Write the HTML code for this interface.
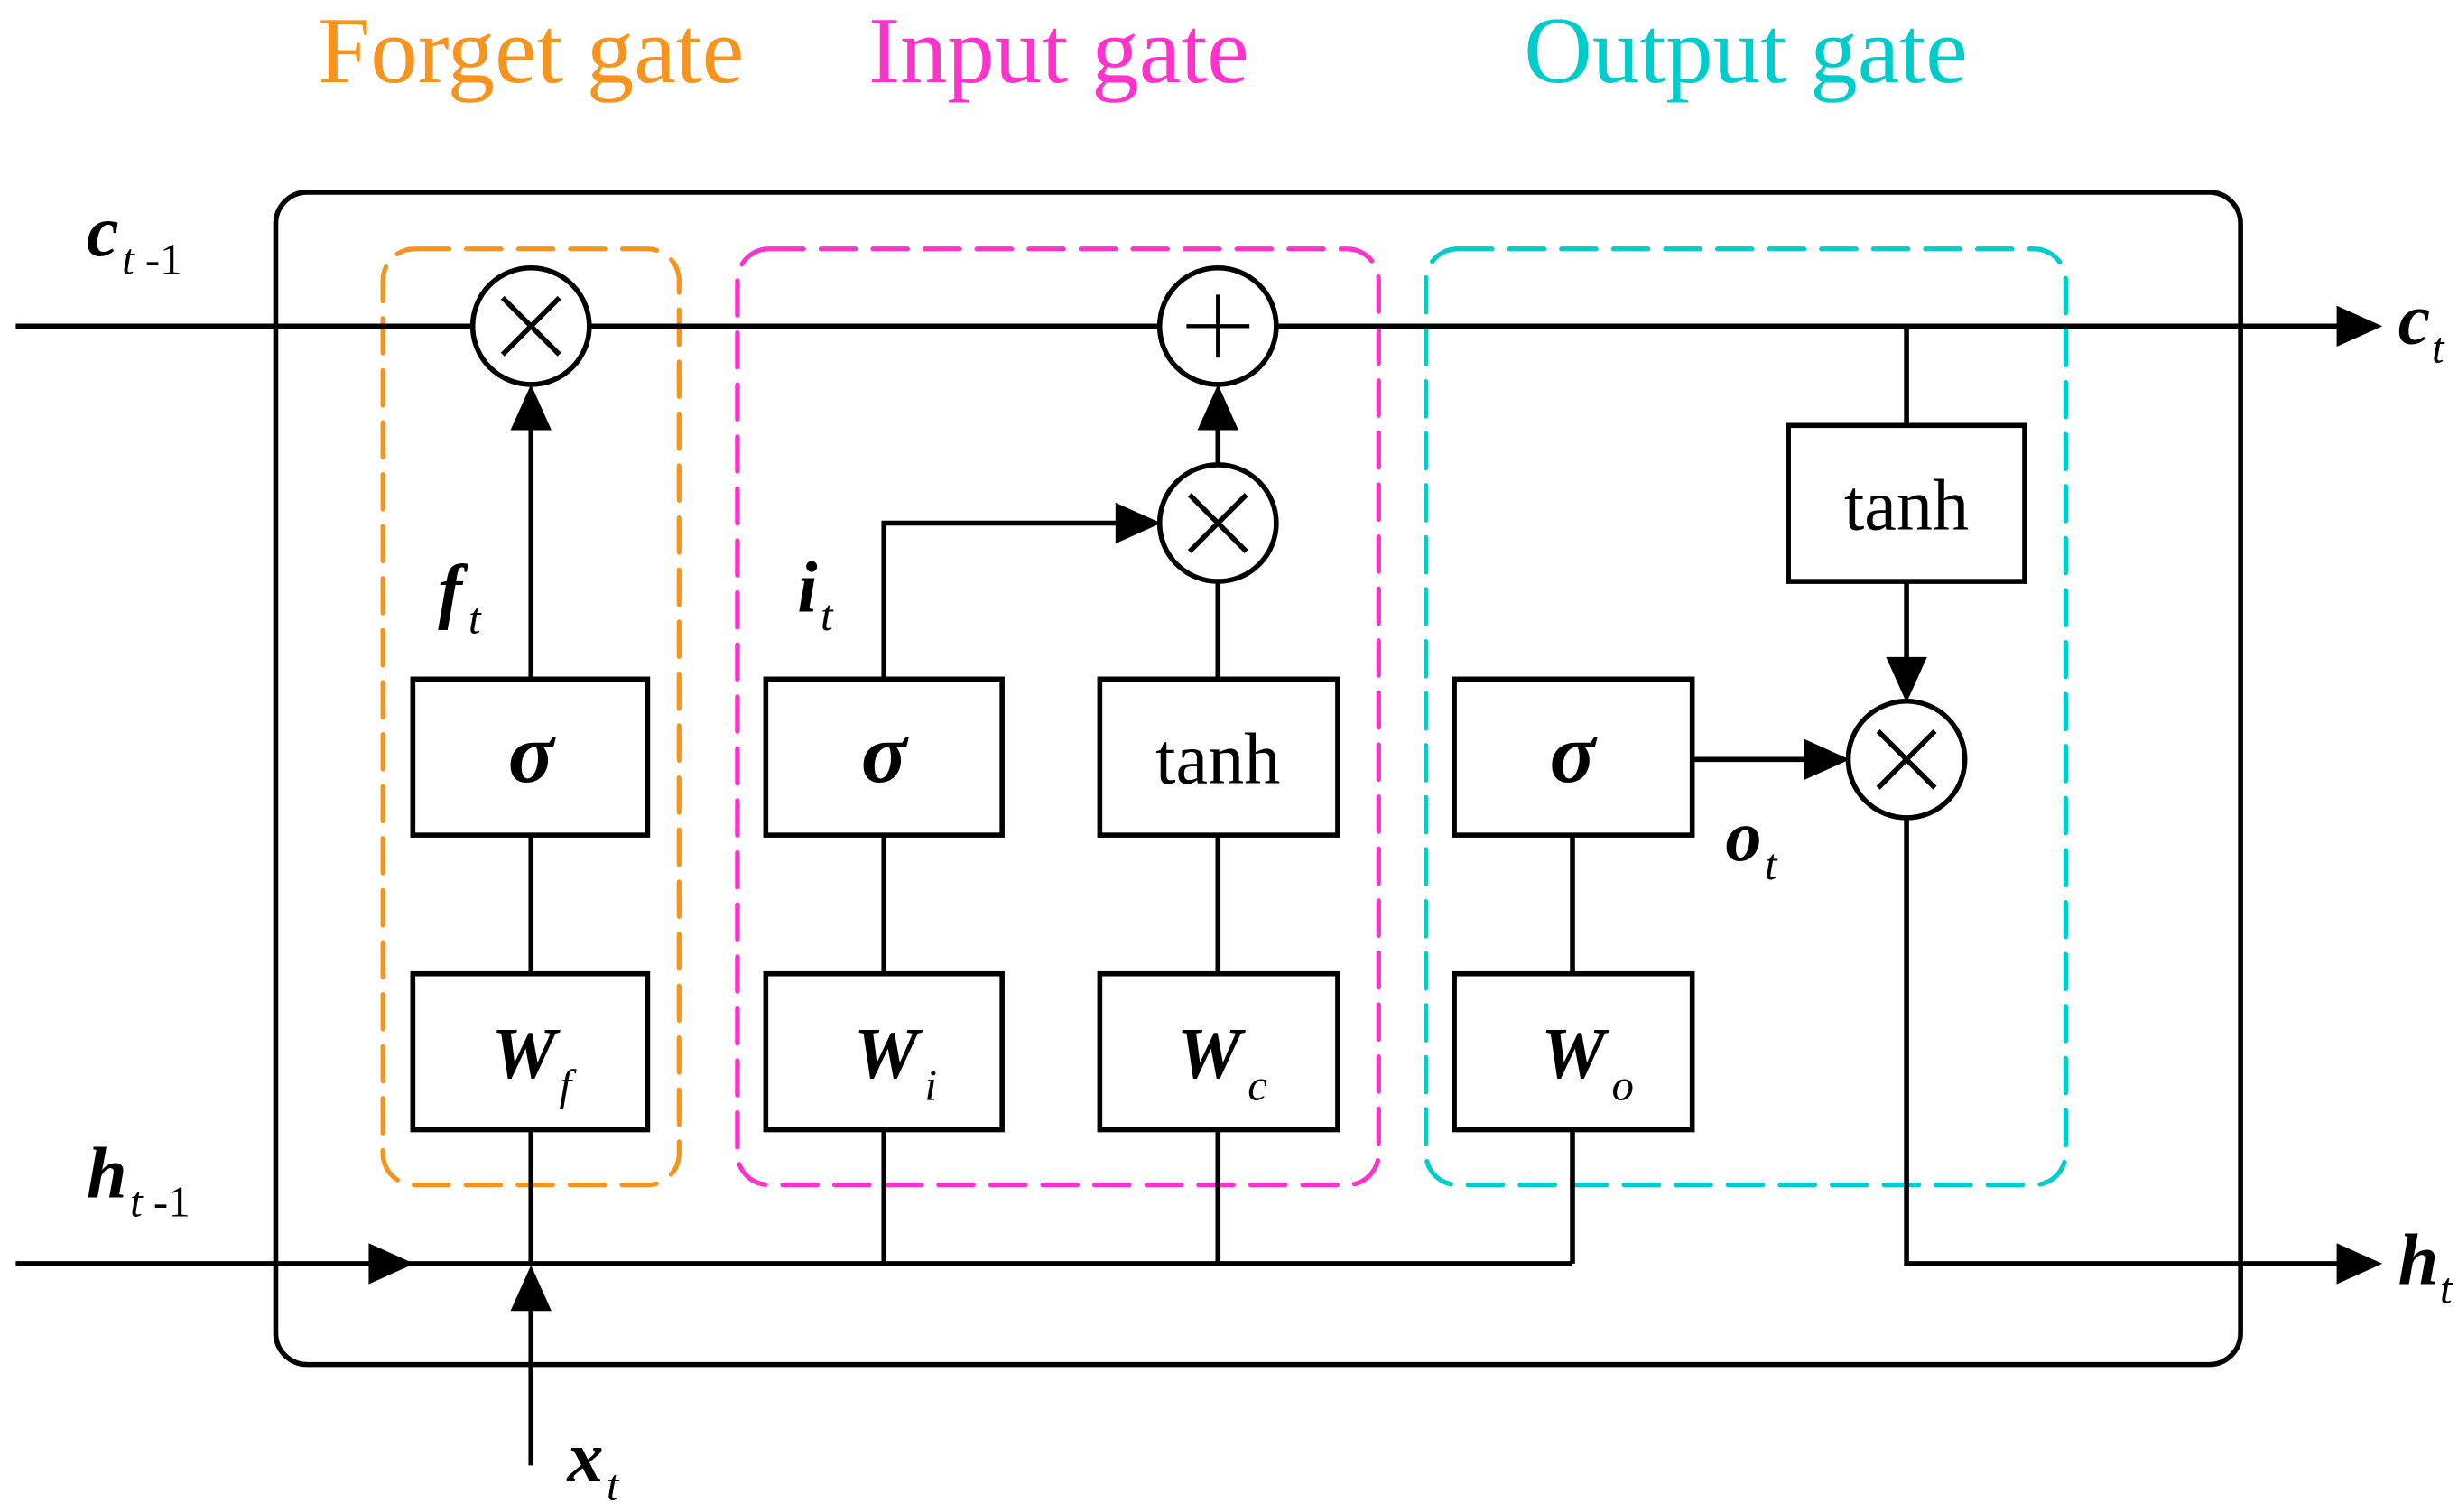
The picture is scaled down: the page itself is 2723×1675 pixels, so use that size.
<!DOCTYPE html>
<html><head><meta charset="utf-8"><style>html,body{margin:0;padding:0;background:#fff}svg{display:block}</style></head>
<body>
<svg width="2723" height="1675" viewBox="0 0 1560 959.6" preserveAspectRatio="none" xmlns="http://www.w3.org/2000/svg" font-family="Liberation Serif, serif">
<text x="337" y="52" font-size="60" fill="#f7941d" text-anchor="middle">Forget gate</text>
<text x="672" y="52" font-size="60" fill="#ff33cc" text-anchor="middle">Input gate</text>
<text x="1108" y="52" font-size="60" fill="#00cccc" text-anchor="middle">Output gate</text>

<rect x="175" y="122" width="1247" height="744" rx="20" fill="none" stroke="#000" stroke-width="3.2"/>
<g fill="none" stroke-width="3" stroke-dasharray="22 11" stroke-linecap="round">
<rect x="243" y="158" width="188" height="594" rx="20" stroke="#f7941d"/>
<rect x="468" y="158" width="407" height="594" rx="20" stroke="#ff33cc"/>
<rect x="905" y="158" width="406" height="594" rx="20" stroke="#00cccc"/>
</g>

<g stroke="#000" stroke-width="3.2" fill="none">
<line x1="10" y1="207" x2="300" y2="207"/>
<line x1="374" y1="207" x2="736" y2="207"/>
<path d="M810,207 H1484"/>
<path d="M1483,194 L1512,207 L1483,220 z" fill="#000" stroke="none"/>
<line x1="10" y1="802" x2="998" y2="802"/>
<path d="M234,789 L263,802 L234,815 z" fill="#000" stroke="none"/>
<path d="M1210,519 V802 H1484"/>
<path d="M1483,789 L1512,802 L1483,815 z" fill="#000" stroke="none"/>
<line x1="337" y1="930" x2="337" y2="830"/>
<path d="M324,832 L337,803 L350,832 z" fill="#000" stroke="none"/>
<line x1="337" y1="802" x2="337" y2="717"/>
<line x1="337" y1="618" x2="337" y2="530"/>
<line x1="337" y1="431" x2="337" y2="272"/>
<path d="M324,273 L337,244 L350,273 z" fill="#000" stroke="none"/>
<line x1="561" y1="802" x2="561" y2="717"/>
<line x1="561" y1="618" x2="561" y2="530"/>
<path d="M561,431 V332 H710"/>
<path d="M708,319 L737,332 L708,345 z" fill="#000" stroke="none"/>
<line x1="773" y1="802" x2="773" y2="717"/>
<line x1="773" y1="618" x2="773" y2="530"/>
<line x1="773" y1="431" x2="773" y2="369"/>
<line x1="773" y1="295" x2="773" y2="272"/>
<path d="M760,273 L773,244 L786,273 z" fill="#000" stroke="none"/>
<line x1="998" y1="802" x2="998" y2="717"/>
<line x1="998" y1="618" x2="998" y2="530"/>
<line x1="1074" y1="482" x2="1147" y2="482"/>
<path d="M1145,469 L1174,482 L1145,495 z" fill="#000" stroke="none"/>
<line x1="1210" y1="207" x2="1210" y2="270"/>
<line x1="1210" y1="369" x2="1210" y2="418"/>
<path d="M1197,417 L1210,446 L1223,417 z" fill="#000" stroke="none"/>
<g fill="#fff">
<rect x="262" y="431" width="149" height="99"/>
<rect x="262" y="618" width="149" height="99"/>
<rect x="486" y="431" width="150" height="99"/>
<rect x="486" y="618" width="150" height="99"/>
<rect x="698" y="431" width="151" height="99"/>
<rect x="698" y="618" width="151" height="99"/>
<rect x="923" y="431" width="151" height="99"/>
<rect x="923" y="618" width="151" height="99"/>
<rect x="1135" y="270" width="150" height="99"/>
<circle cx="337" cy="207" r="37"/>
<circle cx="773" cy="207" r="37"/>
<circle cx="773" cy="332" r="37"/>
<circle cx="1210" cy="482" r="37"/>
</g>
<path d="M319,189 L355,225 M355,189 L319,225"/>
<path d="M755,314 L791,350 M791,314 L755,350"/>
<path d="M1192,464 L1228,500 M1228,464 L1192,500"/>
<path d="M773,187 V227 M753,207 H793" stroke-width="2.5"/>
</g>

<g font-size="46" fill="#000" text-anchor="middle">
<text x="337" y="496" font-size="54" font-style="italic" font-weight="bold">σ</text>
<text x="561" y="496" font-size="54" font-style="italic" font-weight="bold">σ</text>
<text x="998" y="496" font-size="54" font-style="italic" font-weight="bold">σ</text>
<text x="773" y="497">tanh</text>
<text x="1210" y="336">tanh</text>
</g>
<g font-size="46" fill="#000" font-style="italic" font-weight="bold">
<text x="312" y="684">W<tspan font-size="28" font-weight="normal" dx="2" dy="14">f</tspan></text>
<text x="542" y="684">W<tspan font-size="28" font-weight="normal" dx="4" dy="14">i</tspan></text>
<text x="747" y="684">W<tspan font-size="28" font-weight="normal" dx="4" dy="14">c</tspan></text>
<text x="978" y="684">W<tspan font-size="28" font-weight="normal" dx="4" dy="14">o</tspan></text>
<text x="55" y="162">c<tspan font-size="28" font-weight="normal" dx="2" dy="12">t</tspan><tspan font-size="28" font-weight="normal" font-style="normal"> -1</tspan></text>
<text x="55" y="760">h<tspan font-size="28" font-weight="normal" dx="2" dy="12">t</tspan><tspan font-size="28" font-weight="normal" font-style="normal"> -1</tspan></text>
<text x="278" y="390">f<tspan font-size="28" font-weight="normal" dx="4" dy="12">t</tspan></text>
<text x="506" y="388">i<tspan font-size="28" font-weight="normal" dx="2" dy="12">t</tspan></text>
<text x="1095" y="546">o<tspan font-size="28" font-weight="normal" dx="2" dy="12">t</tspan></text>
<text x="1522" y="218">c<tspan font-size="28" font-weight="normal" dx="1" dy="12">t</tspan></text>
<text x="1522" y="815">h<tspan font-size="28" font-weight="normal" dx="1" dy="12">t</tspan></text>
<text x="360" y="940">x<tspan font-size="28" font-weight="normal" dx="2" dy="12">t</tspan></text>
</g>
</svg>
</body></html>
